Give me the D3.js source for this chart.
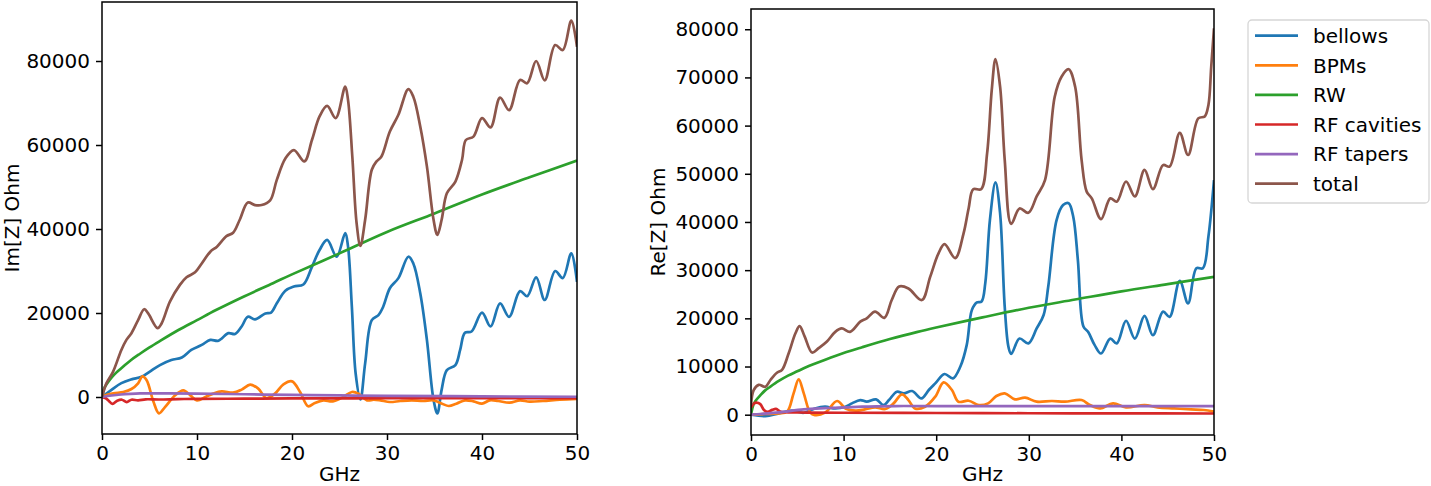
<!DOCTYPE html>
<html>
<head>
<meta charset="utf-8">
<script src="https://cdn.jsdelivr.net/npm/d3@7"></script>
<style>
  body { margin: 0; background: #fff; }
  svg { display: block; font-family: "DejaVu Sans", sans-serif; }
  .tick text { font-size: 20px; fill: #000; font-family: "DejaVu Sans", sans-serif; }
  .tick line { stroke: #000; stroke-width: 1.5; }
</style>
</head>
<body>
<svg id="chart" width="1431" height="486"></svg>
<script>
// values (GHz, Ohm)
var imBellowsF = [0,1.0,2.04,3.1,4.15,5.0,6.1,7.3,8.4,9.4,10.5,11.4,12.25,13.3,14.0,14.7,15.35,16.1,17.2,17.8,18.4,19.3,20.2,21.2,22.1,22.9,23.7,24.7,25.6,25.9,26.3,26.7,27.2,27.7,28.4,29.1,29.6,30.3,31.2,32.25,32.77,33.5,34.2,34.9,35.3,35.75,36.3,37.2,37.7,38.2,38.9,40.0,40.9,41.9,42.85,44.0,44.75,45.7,46.6,47.7,48.5,49.4,50];
var imBellows = [0,1700,3300,4200,4800,6000,7600,8800,9400,11200,12400,13600,13400,15200,15000,16800,19100,18500,19900,20100,22300,25300,26300,26800,31000,35000,37400,33400,39000,35800,21500,5600,-600,8000,18300,19500,21500,25900,28300,33400,31800,24700,13600,-700,-3900,1700,6400,7600,11200,15300,15600,20100,16800,22300,19100,25200,24000,28500,23100,30000,28300,34200,27400];

var imBpmF = [0,0.14,1.19,2.24,3.1,3.8,4.25,4.7,5.4,6.0,6.63,7.7,8.56,9.3,10.0,10.9,11.7,12.6,13.8,14.7,15.6,16.45,17.3,18.2,19.1,20.0,20.85,21.7,22.4,23.3,24.3,25.4,26.3,27.0,27.9,28.6,29.3,30.3,31.4,32.6,33.8,34.9,35.8,36.5,37.3,38.2,39.1,40.0,40.8,41.7,42.9,44.0,45.0,46.4,48.2,50];
var imBpm = [0,240,880,1190,1900,3260,4900,3970,-1000,-3900,-2400,400,1590,400,-800,0,800,1350,1030,1750,2940,1980,-240,800,3020,3730,1190,-2220,-1430,-800,-1030,0,1190,800,-800,-640,-800,-1190,-950,-800,-950,-800,-1590,-2140,-1590,-800,-1030,-1590,-800,-950,-1350,-800,-1100,-950,-640,-450];

var imRwF = [0,0.25,0.5,1,1.5,2,3,4,5,6,8,10,12,15,18,20,25,30,35,40,45,50];
var imRw = [0,2200,3100,4600,5800,6800,8700,10300,11800,13200,15900,18300,20700,24000,27100,29200,34200,39300,43700,48200,52300,56300];

var imCavF = [0,0.4,0.7,1.1,1.6,2.1,2.6,3.1,3.8,4.6,6,8,10,15,20,30,40,50];
var imCav = [0,-300,-900,-1650,-900,-650,-1200,-650,-800,-550,-600,-500,-450,-400,-350,-300,-270,-250];

var imTaperF = [0,1,2,3,4,5,7,10,15,20,25,30,40,50];
var imTaper = [0,350,600,750,850,880,880,820,650,500,380,280,150,60];

var imTotalF = [0,0.46,1.16,2.04,2.57,3.1,3.8,4.44,4.86,5.85,6.27,7.15,8.2,8.9,9.8,10.5,11.4,12.1,13.1,13.8,14.5,15.35,16.1,16.8,17.7,18.4,19.3,20.2,21.3,22.1,22.9,23.7,24.6,25.6,25.9,26.35,26.8,27.2,27.7,28.4,28.9,29.4,30.3,31.2,32.25,32.77,33.5,34.2,34.9,35.3,35.75,36.3,37.2,37.9,38.3,39.1,40.0,40.9,41.9,42.85,44.0,44.75,45.7,46.6,47.7,48.5,49.4,50];
var imTotal = [0,3250,6000,11200,13600,15200,18300,20900,19900,16400,17500,22700,26700,28500,29700,31800,34600,35800,38300,39100,42200,46300,45700,45700,46800,51700,56800,58800,56100,61200,66800,69300,66400,73900,70700,57200,41400,36000,42200,54100,56100,57200,63200,67200,73300,71500,64400,54900,42200,38600,42200,48500,51300,56500,61200,62000,66400,64200,71300,68300,75500,74700,80000,75400,83800,82600,89600,83400];

var reBellowsF = [0,1.55,3.0,4.4,5.7,6.9,8.0,9.1,10.2,10.9,11.8,12.5,13.5,14.3,14.9,15.75,16.5,17.4,18.4,19.2,19.9,20.9,21.8,22.6,23.3,23.85,24.4,24.9,25.3,25.8,26.4,26.9,27.4,27.8,28.1,29.0,29.95,30.85,31.6,32.1,33.0,33.7,34.3,34.8,35.3,35.9,36.4,37.1,37.8,38.8,39.5,40.5,41.45,42.5,43.4,44.5,45.2,46.3,47.2,48.1,48.8,49.4,50];
var reBellows = [0,-280,280,830,400,1300,1660,1300,1660,2350,3040,2700,3180,2000,3040,4780,4430,4910,3390,5120,6500,8440,7540,9960,14500,21700,23300,23500,27300,40400,48200,41800,22400,14100,12600,15800,14800,17900,20700,26600,40400,43500,43900,41100,32100,18300,17200,14500,12700,15800,14800,19500,15800,20500,16500,21400,20300,27800,23100,30400,30400,37000,48700];

var reBpmF = [0,1.55,3.0,3.9,4.6,5.15,5.7,6.4,6.9,8.0,9.3,10.2,11.3,12.3,13.4,14.5,15.4,16.3,17.0,17.7,18.8,19.9,20.8,21.7,22.4,23.5,24.6,25.6,26.5,27.4,28.5,29.6,30.85,32.5,33.9,35.7,36.6,37.7,39.1,40.5,42.5,43.9,45.7,47.5,48.9,50];
var reBpm = [0,140,280,620,4430,7340,4430,420,-70,420,2840,1300,830,1100,1520,1180,2350,4220,3040,1300,1660,3740,6710,5120,2700,2900,2000,2350,3880,4430,3180,3530,2700,2840,2700,3040,2000,1300,2350,1520,2000,1520,1300,1100,970,620];

var reRwF = [0,0.25,0.5,1,1.5,2,3,4,5,6,8,10,12,15,18,20,25,30,35,40,45,50];
var reRw = [0,2000,2900,4000,5000,5700,7000,8100,9000,9900,11400,12800,14000,15700,17200,18100,20200,22200,23900,25600,27100,28600];

var reCavF = [0,0.3,0.6,1.0,1.4,1.8,2.3,2.7,3.2,4,6,10,20,30,40,50];
var reCav = [1500,2300,2500,2200,1000,600,1000,1200,600,500,450,400,350,300,280,250];

var reTaperF = [0,1,3,5.7,8,10.2,12,15.6,20,30,40,50];
var reTaper = [0,150,480,1100,1350,1520,1680,1800,1800,1800,1800,1800];

var reTotalF = [0,0.29,0.83,1.55,2.1,2.8,3.35,4.06,4.8,5.25,5.8,6.6,7.3,8.2,9.1,9.8,10.7,11.8,12.5,13.4,14.4,15.2,16.0,17.0,18.45,19.35,20.25,20.9,22.05,22.95,23.5,24.0,24.85,25.5,26.0,26.4,26.9,27.4,28.1,29.0,29.95,30.85,31.75,32.8,33.55,34.3,35.0,35.7,36.25,36.8,37.8,38.8,39.5,40.5,41.45,42.5,43.4,44.5,45.2,46.3,47.2,48.3,49.0,49.4,49.7,50];
var reTotal = [2000,5100,6200,5800,7200,8700,9300,12700,16900,18400,16200,12900,13800,15200,17200,17900,17200,19300,20000,21400,20100,23800,26600,26200,23800,28600,33500,35400,32500,37600,42800,46800,46800,54300,67400,73800,68100,52900,39600,42800,41900,45300,48700,66000,70200,71700,68100,52900,46300,44900,40600,44900,44200,48400,45300,50800,46800,51800,51500,58500,53900,61500,61900,64300,72200,80200];

var seriesNames = ["bellows", "BPMs", "RW", "RF cavities", "RF tapers", "total"];
var colors = ["#1f77b4", "#ff7f0e", "#2ca02c", "#d62728", "#9467bd", "#8c564b"];
var xTicks = [0, 10, 20, 30, 40, 50];
var imTicks = [0, 20000, 40000, 60000, 80000];
var reTicks = [0, 10000, 20000, 30000, 40000, 50000, 60000, 70000, 80000];

function pairs(f, v) { return f.map((d, i) => [d, v[i]]); }

var panels = [
  { id: "im", left: 102, right: 577, top: 2, bottom: 434, yDomain: [-8810, 94050], ticks: imTicks,
    label: "Im[Z] Ohm", labelX: 19,
    series: [pairs(imBellowsF, imBellows), pairs(imBpmF, imBpm), pairs(imRwF, imRw),
             pairs(imCavF, imCav), pairs(imTaperF, imTaper), pairs(imTotalF, imTotal)] },
  { id: "re", left: 751, right: 1214, top: 9, bottom: 435, yDomain: [-4213, 84200], ticks: reTicks,
    label: "Re[Z] Ohm", labelX: 665,
    series: [pairs(reBellowsF, reBellows), pairs(reBpmF, reBpm), pairs(reRwF, reRw),
             pairs(reCavF, reCav), pairs(reTaperF, reTaper), pairs(reTotalF, reTotal)] }
];

var svg = d3.select("#chart");

panels.forEach(function(p) {
  var x = d3.scaleLinear().domain([0, 50]).range([p.left, p.right]);
  var y = d3.scaleLinear().domain(p.yDomain).range([p.bottom, p.top]);

  svg.append("clipPath").attr("id", "clip-" + p.id)
    .append("rect")
    .attr("x", p.left).attr("y", p.top)
    .attr("width", p.right - p.left).attr("height", p.bottom - p.top);

  var line = d3.line()
    .x(d => x(d[0]))
    .y(d => y(d[1]))
    .curve(d3.curveCatmullRom.alpha(0.5));

  svg.append("g")
    .attr("clip-path", "url(#clip-" + p.id + ")")
    .selectAll("path")
    .data(p.series)
    .join("path")
    .attr("d", line)
    .attr("fill", "none")
    .attr("stroke", (d, i) => colors[i])
    .attr("stroke-width", 2.7)
    .attr("stroke-linejoin", "round")
    .attr("stroke-linecap", "butt");

  var xAxis = d3.axisBottom(x).tickValues(xTicks).tickSize(6).tickSizeOuter(0).tickPadding(5.5);
  var gx = svg.append("g").attr("transform", `translate(0,${p.bottom})`).call(xAxis);
  gx.select(".domain").remove();

  var yAxis = d3.axisLeft(y).tickValues(p.ticks).tickFormat(d3.format("d")).tickSize(6).tickSizeOuter(0).tickPadding(6);
  var gy = svg.append("g").attr("transform", `translate(${p.left},0)`).call(yAxis);
  gy.select(".domain").remove();

  // frame
  svg.append("rect")
    .attr("x", p.left).attr("y", p.top)
    .attr("width", p.right - p.left).attr("height", p.bottom - p.top)
    .attr("fill", "none").attr("stroke", "#000").attr("stroke-width", 1.5);

  svg.append("text")
    .attr("x", (p.left + p.right) / 2).attr("y", 481)
    .attr("text-anchor", "middle").style("font-size", "20px")
    .text("GHz");

  svg.append("text")
    .attr("transform", `translate(${p.labelX},${(p.top + p.bottom) / 2}) rotate(-90)`)
    .attr("text-anchor", "middle").style("font-size", "20px")
    .text(p.label);
});

// legend
var legend = svg.append("g");
legend.append("rect")
  .attr("x", 1248).attr("y", 20).attr("width", 181).attr("height", 183).attr("rx", 4)
  .attr("fill", "#fff").attr("stroke", "#d6d6d6").attr("stroke-width", 1.3);

var item = legend.selectAll(".item")
  .data(seriesNames)
  .join("g")
  .attr("transform", (d, i) => `translate(0,${35.7 + i * 29.6})`);

item.append("line")
  .attr("x1", 1255).attr("x2", 1298)
  .attr("stroke", (d, i) => colors[i]).attr("stroke-width", 2.7);

item.append("text")
  .attr("x", 1313).attr("dy", "0.36em")
  .style("font-size", "20px")
  .text(d => d);
</script>
</body>
</html>
